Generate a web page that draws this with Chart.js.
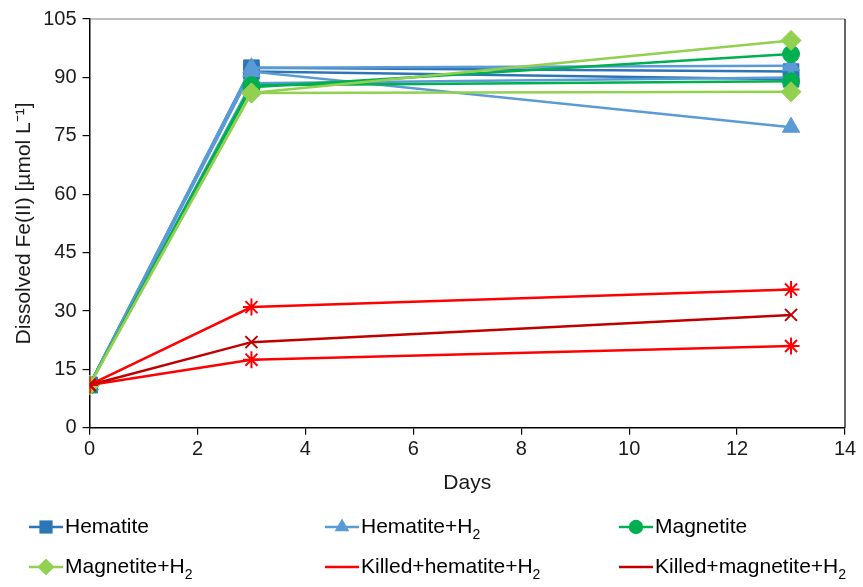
<!DOCTYPE html>
<html>
<head>
<meta charset="utf-8">
<script src="https://cdn.jsdelivr.net/npm/chart.js@4.4.1/dist/chart.umd.min.js"></script>
<style>
  html, body { margin: 0; padding: 0; background: #fff; }
  #wrap { width: 863px; height: 587px; position: relative; }
</style>
</head>
<body>
<div id="wrap"><canvas id="fe2Chart"></canvas></div>
<script>
// --- data ---
const days = [0, 3, 13];
const xTicks = [0, 2, 4, 6, 8, 10, 12, 14];
const yTicks = [0, 15, 30, 45, 60, 75, 90, 105];

const seriesNames = ['Hematite', 'Hematite+H2', 'Magnetite', 'Magnetite+H2', 'Killed+hematite+H2', 'Killed+magnetite+H2'];

// replicates per treatment (umol/L at day 0, 3, 13)
const hematite = [[11, 92.5, 91.5], [11, 91.5, 89.5]];
const hematiteH2 = [[11, 91.5, 77.2], [11, 92.5, 93], [11, 88.5, 90]];
const magnetite = [[11, 87.5, 96], [11, 88, 89]];
const magnetiteH2 = [[11, 86, 99.5], [11, 86, 86.3]];
const killedHematiteH2 = [[11, 31, 35.5], [11, 17.5, 21]];
const killedMagnetiteH2 = [[11, 22, 29]];

const seriesData = [hematite, hematiteH2, magnetite, magnetiteH2, killedHematiteH2, killedMagnetiteH2];
const colors = ['#2E75B6', '#5B9BD5', '#00B050', '#92D050', '#FF0000', '#C00000'];
const markers = ['rect', 'triangle', 'circle', 'rectRot', 'star', 'crossRot'];
const markerSize = [11, 10, 8.5, 10, 8.5, 8.5];

const FONT = '"Liberation Sans", Arial, sans-serif';

// one chart dataset per replicate, same look for a treatment
const datasets = [];
seriesData.forEach((reps, i) => {
    reps.forEach((vals) => {
        datasets.push({
            label: seriesNames[i].replace(/H2$/, 'H₂'),
            data: vals.map((v, k) => ({ x: days[k], y: v })),
            borderColor: colors[i],
            backgroundColor: colors[i],
            borderWidth: 2.5,
            pointStyle: markers[i],
            pointRadius: markerSize[i],
            pointBorderWidth: (markers[i] === 'star' || markers[i] === 'crossRot') ? 2 : 1,
            pointHoverRadius: markerSize[i],
            showLine: true,
            tension: 0,
            order: 10 - i
        });
    });
});

// frame on top/right of the plot area
const framePlugin = {
    id: 'frame',
    afterDraw(chart) {
        const { ctx, chartArea: a } = chart;
        ctx.save();
        ctx.lineWidth = 1.2;
        ctx.strokeStyle = '#808080';
        ctx.beginPath();
        ctx.moveTo(a.left, a.top);
        ctx.lineTo(a.right, a.top);
        ctx.stroke();
        ctx.strokeStyle = '#000';
        ctx.beginPath();
        ctx.moveTo(a.right, a.top);
        ctx.lineTo(a.right, a.bottom);
        ctx.stroke();
        ctx.restore();
    }
};

// legend below the chart, 3 columns x 2 rows, with H2 subscript
const legendPlugin = {
    id: 'subLegend',
    afterDraw(chart) {
        const ctx = chart.ctx;
        const colX = [46, 342, 636];
        const rowY = [527, 567];
        ctx.save();
        seriesNames.forEach((name, i) => {
            const cx = colX[i % 3];
            const cy = rowY[Math.floor(i / 3)];
            ctx.strokeStyle = colors[i];
            ctx.fillStyle = colors[i];
            ctx.lineWidth = 2.5;
            ctx.beginPath();
            ctx.moveTo(cx - 17, cy);
            ctx.lineTo(cx + 17, cy);
            ctx.stroke();
            ctx.lineWidth = (markers[i] === 'star' || markers[i] === 'crossRot') ? 2 : 1;
            Chart.helpers.drawPoint(ctx, { pointStyle: markers[i], radius: markerSize[i] * 0.85, rotation: 0 }, cx, cy);

            let x = cx + 19;
            ctx.fillStyle = '#000';
            ctx.textBaseline = 'middle';
            ctx.textAlign = 'left';
            const sub = /H2$/.test(name);
            const main = sub ? name.slice(0, -1) : name;
            ctx.font = '21px ' + FONT;
            ctx.fillText(main, x, cy);
            if (sub) {
                x += ctx.measureText(main).width;
                ctx.font = '14px ' + FONT;
                ctx.fillText('2', x, cy + 8);
            }
        });
        ctx.restore();
    }
};

new Chart(document.getElementById('fe2Chart').getContext('2d'), {
    type: 'scatter',
    data: { datasets: datasets },
    options: {
        responsive: true,
        maintainAspectRatio: false,
        animation: false,
        layout: { padding: { left: 4, right: 18, top: 19, bottom: 91 } },
        plugins: {
            legend: { display: false },
            tooltip: { enabled: true }
        },
        scales: {
            x: {
                type: 'linear',
                min: 0,
                max: 14,
                afterBuildTicks: (s) => { s.ticks = xTicks.map(v => ({ value: v })); },
                grid: { drawOnChartArea: false, drawTicks: true, tickLength: 7, color: '#000', lineWidth: 1.2 },
                border: { display: true, color: '#000', width: 1.5 },
                ticks: { color: '#1a1a1a', font: { family: FONT, size: 20 }, padding: 3 },
                title: { display: true, text: 'Days', color: '#1a1a1a', font: { family: FONT, size: 21 }, padding: { top: 6, bottom: 0 } }
            },
            y: {
                type: 'linear',
                min: 0,
                max: 105,
                afterBuildTicks: (s) => { s.ticks = yTicks.map(v => ({ value: v })); },
                grid: { drawOnChartArea: false, drawTicks: true, tickLength: 7, color: '#000', lineWidth: 1.2 },
                border: { display: true, color: '#000', width: 1.5 },
                ticks: { color: '#1a1a1a', font: { family: FONT, size: 20 }, padding: 6 },
                title: { display: true, text: 'Dissolved Fe(II) [µmol L⁻¹]', color: '#1a1a1a', font: { family: FONT, size: 21 }, padding: { top: 8, bottom: 0 } }
            }
        }
    },
    plugins: [framePlugin, legendPlugin]
});
</script>
</body>
</html>
